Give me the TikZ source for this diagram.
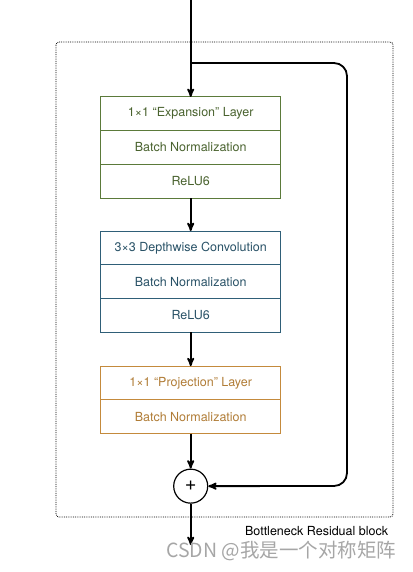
\documentclass[tikz,border=0pt]{standalone}
\usepackage{fontspec}
\setmainfont{TeX Gyre Heros}
\newfontfamily\cjkfont{Noto Sans CJK SC}
\usetikzlibrary{arrows,positioning}
\definecolor{expgreen}{HTML}{5B7A3A}
\definecolor{dwblue}{HTML}{2F5F78}
\definecolor{projorange}{HTML}{C48A3C}
\tikzset{
  layer/.style={rectangle,draw,line width=1pt,outer sep=0pt,minimum width=180pt,minimum height=33.7pt,inner sep=0pt,font=\fontsize{12.5}{14}\selectfont},
  explayer/.style={layer,draw=expgreen,text=expgreen!80!black},
  dwlayer/.style={layer,draw=dwblue,text=dwblue!85!black},
  projlayer/.style={layer,draw=projorange,text=projorange!90!black}
}

\begin{document}
\begin{tikzpicture}[->,>=stealth',x=1pt,y=1pt,line width=1.8pt]
  \useasboundingbox (0,0) rectangle (412,-572);
  % block outline
  \draw[-,densely dotted,line width=0.8pt,rounded corners=3pt] (56,-42) rectangle (393,-517);
  \node[anchor=south east,inner sep=0pt,font=\fontsize{12.5}{14}\selectfont] (blocklabel) at (389,-537) {Bottleneck Residual block};

  % expansion
  \node[explayer] (E1) at (190.7,-113.8) {1\char"00D7 1 \char"201C Expansion\char"201D{} Layer};
  \node[explayer] (E2) [below=0pt of E1] {Batch Normalization};
  \node[explayer] (E3) [below=0pt of E2] {ReLU6};
  % depthwise
  \node[dwlayer] (D1) [below=33pt of E3] {3\char"00D7 3 Depthwise Convolution};
  \node[dwlayer] (D2) [below=0pt of D1] {Batch Normalization};
  \node[dwlayer] (D3) [below=0pt of D2] {ReLU6};
  % projection
  \node[projlayer] (P1) [below=34pt of D3] {1\char"00D7 1 \char"201C Projection\char"201D{} Layer};
  \node[projlayer] (P2) [below=0pt of P1] {Batch Normalization};
  % sum
  \node[circle,draw,line width=1.2pt,minimum size=34pt,inner sep=0pt,font=\fontsize{20}{20}\selectfont] (add) [below=35pt of P2] {+};

  \coordinate (in) at (190.7,0);
  \coordinate (split) at (190.7,-63);
  \coordinate (out) at (190.7,-545);

  \path (in) edge[-] (split)
        (split) edge (E1)
        (E3) edge (D1)
        (D3) edge (P1)
        (P2) edge (add)
        (add) edge (out);
  \draw[rounded corners=13pt] (split) -- (347,-63) -- (347,-486) -- (add.east);

  \node[anchor=south east,inner sep=0pt,text=black!35,font=\cjkfont\fontsize{19.5}{20}\selectfont] (mark) at (397,-562) {CSDN @我是一个对称矩阵};
\end{tikzpicture}
\end{document}
